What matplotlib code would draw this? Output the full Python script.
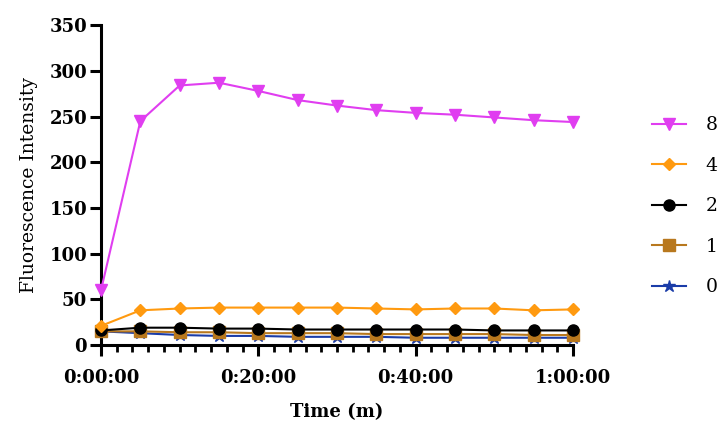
import matplotlib

matplotlib.use("Agg")
import matplotlib.pyplot as plt  # noqa: E402
from matplotlib.ticker import FuncFormatter, MultipleLocator  # noqa: E402

# tempo em minutos (a cada 5 min ate 1 h)
time_min = [0, 5, 10, 15, 20, 25, 30, 35, 40, 45, 50, 55, 60]

conc_8 = [60, 245, 284, 287, 278, 268, 262, 257, 254, 252, 249, 246, 244]
conc_4 = [21, 38, 40, 41, 41, 41, 41, 40, 39, 40, 40, 38, 39]
conc_2 = [16, 19, 19, 18, 18, 17, 17, 17, 17, 17, 16, 16, 16]
conc_1 = [15, 15, 14, 14, 13, 13, 13, 12, 12, 12, 12, 11, 11]
conc_0 = [15, 13, 11, 10, 10, 9, 9, 9, 8, 8, 8, 8, 8]

series = [
    ("8", conc_8, "#e03ef0", "v"),
    ("4", conc_4, "#ff9a10", "D"),
    ("2", conc_2, "#000000", "o"),
    ("1", conc_1, "#b8781e", "s"),
    ("0", conc_0, "#1a3ca8", "*"),
]

plt.rcParams["font.family"] = "serif"
plt.rcParams["font.serif"] = ["DejaVu Serif"]

fig = plt.figure(figsize=(7.19, 4.26), dpi=100)
ax = fig.add_axes([0.1405, 0.19, 0.6565, 0.751])

# desenha do fundo para o topo para que o "8" fique por cima
for label, vals, color, marker in reversed(series):
    ms = 8 if marker != "*" else 9
    if marker == "D":
        ms = 6.5
    ax.plot(time_min, vals, color=color, marker=marker, markersize=ms,
            linewidth=1.5, label=label, clip_on=False, zorder=3)

ax.set_xlim(0, 60)
ax.set_ylim(0, 350)
ax.xaxis.set_major_locator(MultipleLocator(20))
ax.xaxis.set_minor_locator(MultipleLocator(2))
ax.yaxis.set_major_locator(MultipleLocator(50))


def _fmt(x, _pos):
    m = int(round(x))
    return f"{m // 60}:{m % 60:02d}:00"


ax.xaxis.set_major_formatter(FuncFormatter(_fmt))
ax.spines[["top", "right"]].set_visible(False)
for s in ("left", "bottom"):
    ax.spines[s].set_linewidth(2.2)
ax.tick_params(axis="both", which="major", length=8, width=2.2,
               labelsize=13)
ax.tick_params(axis="x", which="major", pad=9)
ax.tick_params(axis="y", which="major", pad=2)
ax.tick_params(axis="x", which="minor", length=5, width=2)
for t in ax.get_xticklabels() + ax.get_yticklabels():
    t.set_fontweight("bold")

ax.set_ylabel("Fluorescence Intensity", fontsize=13.5, labelpad=8)
ax.set_xlabel("Time (m)", fontsize=13, fontweight="bold", labelpad=12)

handles, labels = ax.get_legend_handles_labels()
ax.legend(handles[::-1], labels[::-1], loc="upper left",
          bbox_to_anchor=(1.132, 0.768), frameon=False, fontsize=13.5,
          labelspacing=1.2, handlelength=1.8, handletextpad=1.05)

fig.savefig("out.png", dpi=100)
